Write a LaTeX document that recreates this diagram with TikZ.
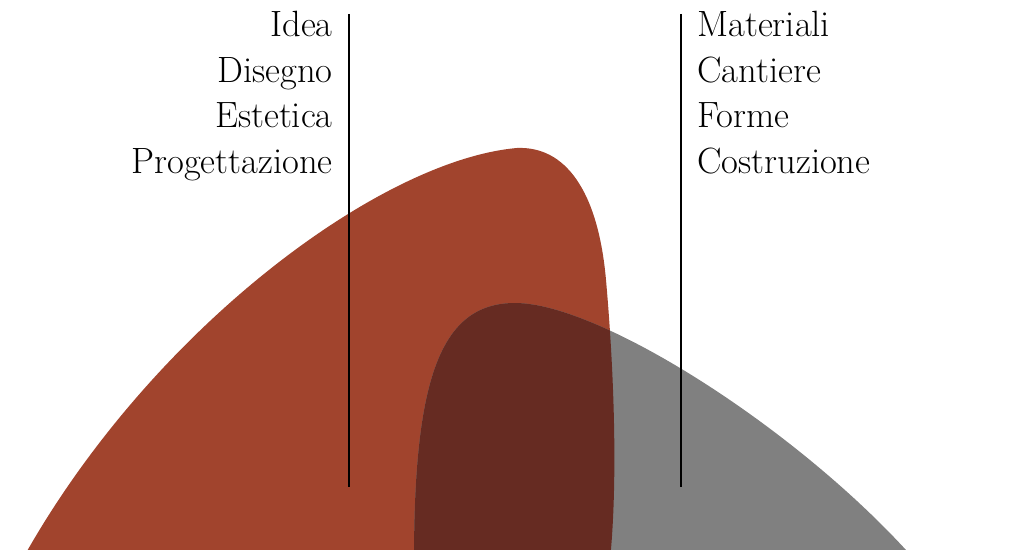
\documentclass[tikz,border=0pt]{standalone}
\usepackage{xcolor}
\usepackage{tikz}
\usetikzlibrary{positioning}

\definecolor{rust}{RGB}{161,68,45}
\definecolor{ash}{RGB}{128,128,128}
\definecolor{umber}{RGB}{102,43,34}

\begin{document}
\begin{tikzpicture}[
    x=0.025cm, y=-0.025cm,
    word/.style={inner sep=0pt, font=\fontsize{26}{32}\selectfont},
    leftword/.style={word, anchor=base east},
    rightword/.style={word, anchor=base west},
    divider/.style={line width=1pt, black},
    redblob/.style={insert path={(22,560) .. controls (150,330) and (380,160) .. (517,148)
        .. controls (565,146) and (598,190) .. (606,280)
        .. controls (614,370) and (618,480) .. (610,560) -- cycle}},
    grayblob/.style={insert path={(414,560) .. controls (414,380) and (440,303) .. (515,303)
        .. controls (600,303) and (800,430) .. (915,560) -- cycle}}
]
    \useasboundingbox (0,0) rectangle (1030,550);
    \clip (0,0) rectangle (1030,550);

    % shapes
    \fill[rust, redblob];
    \fill[ash, grayblob];
    \begin{scope}
        \clip[grayblob];
        \fill[umber, redblob];
    \end{scope}

    % dividers
    \coordinate (ltop) at (349,14);
    \coordinate (lbot) at (349,487);
    \coordinate (rtop) at (681,14);
    \coordinate (rbot) at (681,487);
    \draw[divider] (ltop) -- (lbot);
    \draw[divider] (rtop) -- (rbot);

    % left words
    \node[leftword] (idea) at (333,37) {Idea};
    \node[leftword] (disegno) at (333,82.5) {Disegno};
    \node[leftword] (estetica) at (333,128) {Estetica};
    \node[leftword] (progetto) at (333,173.5) {Progettazione};

    % right words
    \node[rightword] (materiali) at (697,37) {Materiali};
    \node[rightword] (cantiere) at (697,82.5) {Cantiere};
    \node[rightword] (forme) at (697,128) {Forme};
    \node[rightword] (costruzione) at (697,173.5) {Costruzione};
\end{tikzpicture}
\end{document}
